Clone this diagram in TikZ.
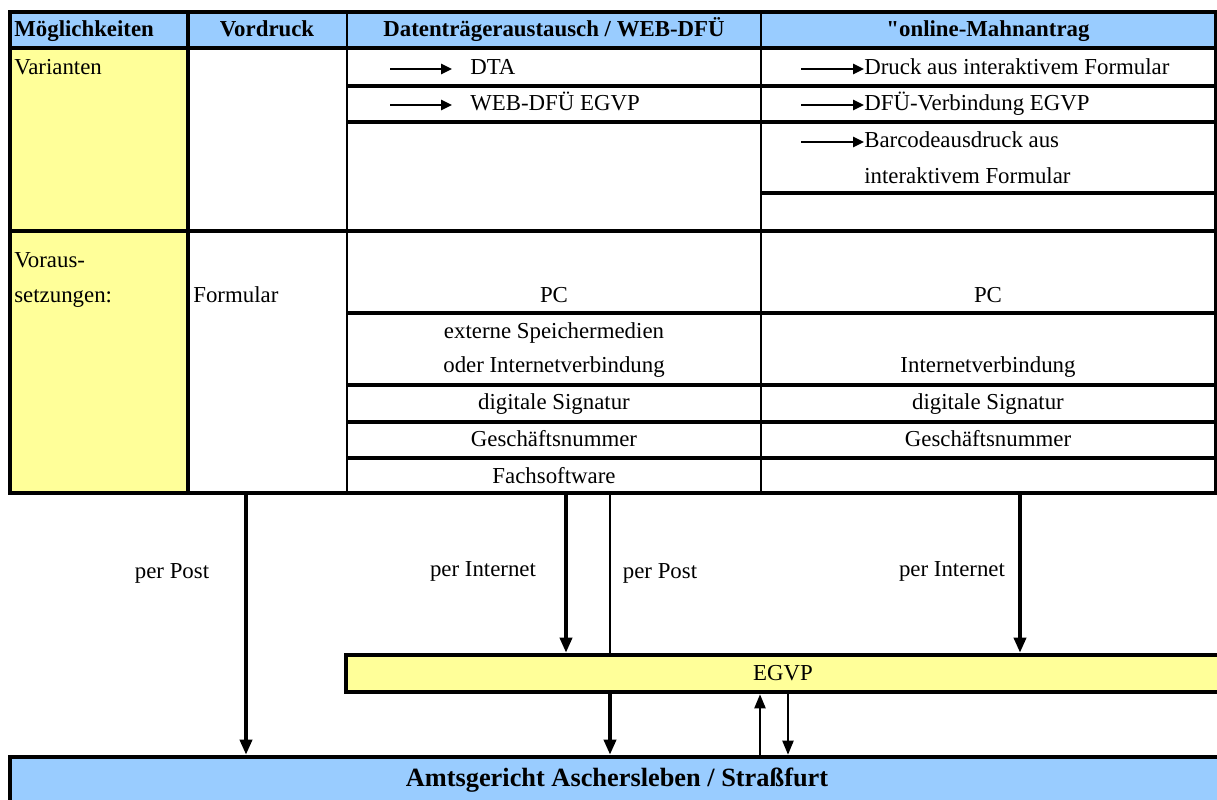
\documentclass[tikz,border=0pt]{standalone}
\usepackage{fontspec}
\setmainfont{Liberation Serif}
\newfontfamily\rawserif{Liberation Serif}
\usepackage{xcolor}
\usetikzlibrary{arrows.meta}

\definecolor{hdrblue}{HTML}{99CCFF}
\definecolor{cellyellow}{HTML}{FFFF99}

\begin{document}
\begin{tikzpicture}[
  x=0.02cm, y=-0.02cm,
  >={Triangle[length=0.3cm,width=0.24cm]},
  grid/.style={line width=2pt},
  txt/.style={inner sep=0pt, font=\fontsize{13}{15}\selectfont},
  hdr/.style={inner sep=0pt, font=\fontsize{13}{15}\selectfont\bfseries},
  box/.style={draw, line width=2.6pt, inner sep=0pt, font=\fontsize{13}{15}\selectfont},
  flow/.style={->, line width=2pt},
  thinflow/.style={-{Triangle[length=0.28cm,width=0.22cm]}, line width=1.2pt},
  vararr/.style={-{Triangle[length=0.22cm,width=0.2cm]}, line width=1.4pt},
]
\clip (0,0) rectangle (1217,800);

% Table background
\fill[hdrblue] (10,12) rectangle (1216,48);
\fill[cellyellow] (10,48) rectangle (188,493);

% Table lines
\draw[grid] (10,12) rectangle (1216,493);
\draw[grid] (10,48) -- (1216,48);
\draw[grid] (10,231) -- (1216,231);
\draw[grid] (188,12) -- (188,493);
\foreach \x in {347,761} {
  \draw[line width=1.6pt] (\x,12) -- (\x,493);
}
\foreach \y in {86,122,313,385,422,458} {
  \draw[grid] (347,\y) -- (1216,\y);
}
\draw[grid] (761,193) -- (1216,193);

% Header
\node[hdr, anchor=base west] (hmog) at (14,37) {Möglichkeiten};
\node[hdr, anchor=base] (hvor) at (267,37) {Vordruck};
\node[hdr, anchor=base] (hdta) at (554,37) {Datenträgeraustausch / WEB-DFÜ};
\node[hdr, anchor=base] (honl) at (988,37) {{\rawserif"}online-Mahnantrag};

% Varianten
\node[txt, anchor=base west] (var) at (14,75) {Varianten};
\node[txt, anchor=base west] (dta) at (470,75) {DTA};
\node[txt, anchor=base west] (web) at (470,111) {WEB-DFÜ EGVP};
\node[txt, anchor=base west] (dru) at (864,75) {Druck aus interaktivem Formular};
\node[txt, anchor=base west] (dfu) at (864,111) {DFÜ-Verbindung EGVP};
\node[txt, anchor=base west] (bar) at (864,148) {Barcodeausdruck aus};
\node[txt, anchor=base west] (bar2) at (864,184) {interaktivem Formular};

\coordinate (dta-s) at (390,69);
\coordinate (web-s) at (390,105);
\coordinate (dru-s) at (801,69);
\coordinate (dfu-s) at (801,105);
\coordinate (bar-s) at (801,142);
\draw[vararr, shorten >=0.36cm] (dta-s) -- (dta-s -| dta.west);
\draw[vararr, shorten >=0.36cm] (web-s) -- (web-s -| web.west);
\draw[vararr] (dru-s) -- (dru-s -| dru.west);
\draw[vararr] (dfu-s) -- (dfu-s -| dfu.west);
\draw[vararr] (bar-s) -- (bar-s -| bar.west);

% Voraussetzungen
\node[txt, anchor=base west] (vor1) at (14,268) {Voraus-};
\node[txt, anchor=base west] (vor2) at (14,303) {setzungen:};
\node[txt, anchor=base west] (form) at (193,303) {Formular};
\node[txt, anchor=base] (pc1) at (554,303) {PC};
\node[txt, anchor=base] (pc2) at (988,303) {PC};
\node[txt, anchor=base] (ext1) at (554,339) {externe Speichermedien};
\node[txt, anchor=base] (ext2) at (554,373) {oder Internetverbindung};
\node[txt, anchor=base] (inet) at (988,373) {Internetverbindung};
\node[txt, anchor=base] (sig1) at (554,410) {digitale Signatur};
\node[txt, anchor=base] (sig2) at (988,410) {digitale Signatur};
\node[txt, anchor=base] (gnr1) at (554,446) {Geschäftsnummer};
\node[txt, anchor=base] (gnr2) at (988,446) {Geschäftsnummer};
\node[txt, anchor=base] (fsw) at (554,483) {Fachsoftware};

% EGVP and court
\node[box, fill=cellyellow, minimum width=17.48cm, minimum height=0.74cm] (egvp) at (783,673.5) {EGVP};
\node[box, fill=hdrblue, minimum width=24.28cm, minimum height=0.92cm,
  font=\fontsize{15}{17}\selectfont\bfseries] (amts) at (617,780) {Amtsgericht Aschersleben / Straßfurt};

% Ways
\coordinate (post1) at (246,493);
\coordinate (inet1) at (566,493);
\coordinate (post2) at (610,493);
\coordinate (inet2) at (1020,493);
\coordinate (ret) at (760,700);
\coordinate (fwd) at (788,700);

\draw[flow] (post1) -- (post1 |- amts.north);
\draw[flow] (inet1) -- (inet1 |- egvp.north);
\draw[line width=1.2pt] (post2) -- (post2 |- egvp.north);
\draw[flow] (inet2) -- (inet2 |- egvp.north);
\draw[flow] (post2 |- egvp.south) -- (post2 |- amts.north);
\draw[thinflow] (ret |- amts.north) -- (ret |- egvp.south);
\draw[thinflow] (fwd |- egvp.south) -- (fwd |- amts.north);

\node[txt, anchor=base] (lpost1) at (172,578) {per Post};
\node[txt, anchor=base] (linet1) at (483,576) {per Internet};
\node[txt, anchor=base] (lpost2) at (660,578) {per Post};
\node[txt, anchor=base] (linet2) at (952,576) {per Internet};
\end{tikzpicture}
\end{document}
